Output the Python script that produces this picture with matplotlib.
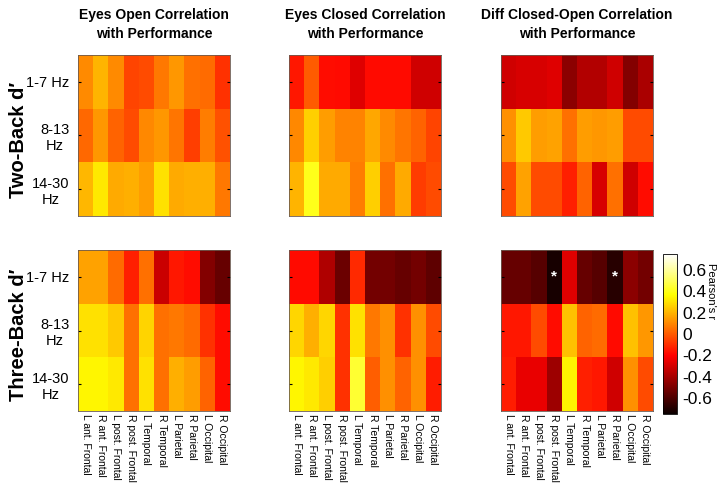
import numpy as np
import matplotlib.pyplot as plt

plt.rcParams['font.family'] = ['Liberation Sans', 'DejaVu Sans']

regions = ['L ant. Frontal', 'R ant. Frontal', 'L post. Frontal', 'R post. Frontal',
           'L Temporal', 'R Temporal', 'L Parietal', 'R Parietal', 'L Occipital', 'R Occipital']
bands = ['1-7 Hz', '8-13\nHz', '14-30\nHz']
col_titles = ['Eyes Open Correlation\nwith Performance',
              'Eyes Closed Correlation\nwith Performance',
              'Diff Closed-Open Correlation\nwith Performance']
row_titles = ['Two-Back d\u2032', 'Three-Back d\u2032']

# Pearson's r, rows = bands, cols = regions
two_open = [[0.11, 0.20, 0.11, -0.05, -0.03, 0.07, 0.14, 0.05, 0.04, -0.09],
            [0.03, 0.14, 0.02, -0.03, 0.10, 0.14, 0.06, -0.06, 0.08, -0.02],
            [0.21, 0.32, 0.18, 0.19, 0.15, 0.30, 0.18, 0.19, 0.19, 0.07]]
two_closed = [[-0.15, 0.00, -0.17, -0.18, -0.27, -0.18, -0.18, -0.18, -0.31, -0.31],
              [0.10, 0.26, 0.15, 0.09, 0.09, 0.17, 0.11, 0.06, 0.02, -0.05],
              [0.20, 0.41, 0.18, 0.18, 0.08, 0.26, 0.05, 0.18, -0.07, -0.03]]
two_diff = [[-0.31, -0.29, -0.29, -0.27, -0.46, -0.37, -0.37, -0.31, -0.48, -0.39],
            [0.12, 0.25, 0.15, 0.16, 0.05, 0.15, 0.14, 0.15, -0.03, -0.03],
            [-0.03, 0.16, -0.03, -0.03, -0.13, 0.02, -0.29, 0.05, -0.31, -0.17]]
three_open = [[0.16, 0.16, 0.04, -0.13, 0.05, -0.32, -0.15, -0.17, -0.48, -0.54],
              [0.30, 0.30, 0.25, 0.05, 0.27, 0.05, 0.07, 0.04, -0.09, -0.17],
              [0.35, 0.35, 0.32, 0.05, 0.30, 0.05, 0.19, 0.15, 0.02, -0.17]]
three_closed = [[-0.18, -0.18, -0.38, -0.53, -0.11, -0.51, -0.51, -0.54, -0.51, -0.56],
                [0.28, 0.19, 0.28, -0.09, 0.30, 0.07, 0.12, -0.09, 0.12, -0.03],
                [0.35, 0.32, 0.26, -0.09, 0.44, 0.01, 0.12, 0.02, 0.12, -0.14]]
three_diff = [[-0.54, -0.54, -0.58, -0.72, -0.27, -0.54, -0.58, -0.68, -0.46, -0.51],
              [-0.15, -0.15, -0.03, -0.17, 0.23, 0.02, 0.04, -0.18, 0.23, 0.14],
              [-0.14, -0.25, -0.25, -0.42, 0.34, -0.13, -0.15, -0.31, 0.12, -0.03]]
# significant cells (row, col) in the three-back difference map
signif = [(0, 3), (0, 7)]

data = [[two_open, two_closed, two_diff], [three_open, three_closed, three_diff]]
vmin, vmax = -0.75, 0.75

fig = plt.figure(figsize=(7.27, 4.86), dpi=100)
lefts = [78, 289, 501]
tops = [55, 250]
w, h = 152, 161
W, H = 727, 486

for r in range(2):
    for c in range(3):
        ax = fig.add_axes([lefts[c] / W, 1 - (tops[r] + h) / H, w / W, h / H])
        im = ax.imshow(np.array(data[r][c]), cmap='hot', vmin=vmin, vmax=vmax,
                       aspect='auto', interpolation='nearest')
        ax.set_yticks(range(3))
        if c == 0:
            ax.set_yticklabels(bands, fontsize=10.5, multialignment='center')
        else:
            ax.set_yticklabels([])
        ax.tick_params(axis='y', direction='in', length=2.5, right=True, pad=6)
        ax.set_xticks(range(10))
        if r == 1:
            ax.set_xticklabels(regions, rotation=-90, fontsize=7.5)
        else:
            ax.set_xticklabels([])
        ax.tick_params(axis='x', length=0, pad=2)
        ax.set_xticks(np.arange(1, 10, 2), minor=True)
        ax.tick_params(axis='x', which='minor', direction='in', length=2.5, top=True)
        for s in ax.spines.values():
            s.set_linewidth(0.6)
            s.set_color('#6b5a50')
        if r == 0:
            ax.text(0.5, 1.09, col_titles[c], transform=ax.transAxes, ha='center',
                    va='bottom', fontsize=10, fontweight='bold', linespacing=1.45)
        if c == 0:
            fig.text(19 / W, 1 - (tops[r] + h / 2 + 4) / H, row_titles[r], rotation=90,
                     ha='center', va='center', fontsize=14.5, fontweight='bold')
        if r == 1 and c == 2:
            for (i, j) in signif:
                ax.text(j, i, '*', color='white', ha='center', va='center',
                        fontsize=11, fontweight='bold')

cax = fig.add_axes([663 / W, 1 - 414 / H, 14 / W, 160 / H])
cb = fig.colorbar(im, cax=cax, ticks=[-0.6, -0.4, -0.2, 0, 0.2, 0.4, 0.6])
cb.ax.set_yticklabels(['-0.6', '-0.4', '-0.2', '0', '0.2', '0.4', '0.6'], fontsize=12.5)
cb.ax.tick_params(length=0, pad=4)
cb.outline.set_linewidth(0.6)
cb.set_label("Pearson's r", rotation=-90, fontsize=8, va='bottom', labelpad=2)
cb.ax.yaxis.set_label_coords(3.1, 0.77)

plt.savefig('out.png', dpi=100)
